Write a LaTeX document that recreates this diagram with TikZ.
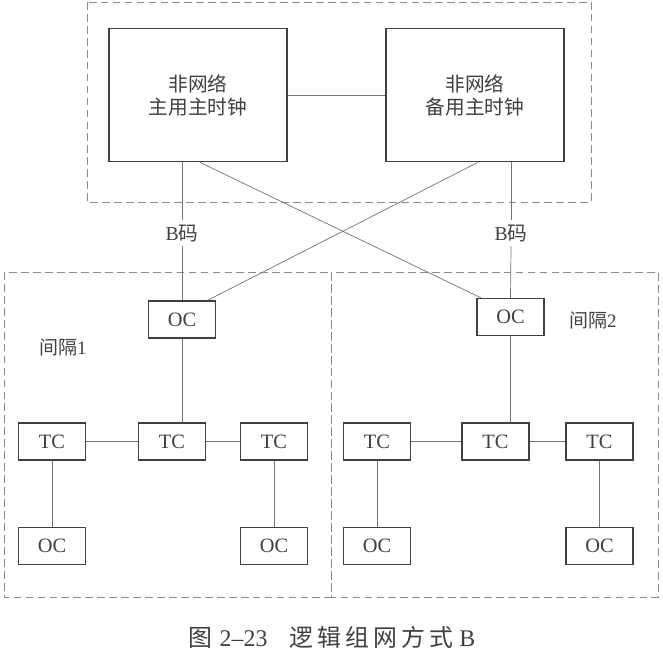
\documentclass[tikz,border=0pt]{standalone}
\usepackage{fontspec}
\setmainfont{Liberation Serif}
\newfontfamily\cjk{Noto Sans CJK SC}
\newfontfamily\cjkwide[LetterSpace=17]{Noto Sans CJK SC}
\usepackage{xcolor}
\usetikzlibrary{positioning,calc}

\begin{document}
\begin{tikzpicture}[
  x=0.025cm,
  y=-0.025cm,
  font=\fontsize{14}{16.5}\selectfont,
  link/.style={line width=0.5pt, draw=black!55},
  zone/.style={draw=black!45, dash pattern=on 5.5pt off 3pt, line width=0.6pt},
  clock/.style={draw=black!75, line width=1.1pt, fill=white,
    minimum width=4.45cm, minimum height=3.33cm, align=center,
    text=black!75, font=\cjk\fontsize{14}{16.3}\selectfont},
  unit/.style={draw=black!75, line width=1.1pt, fill=white,
    minimum width=1.68cm, minimum height=0.92cm, inner sep=0pt,
    text=black!75, font=\fontsize{14.5}{16}\selectfont},
  note/.style={text=black!75}
]

\useasboundingbox (0,0) rectangle (663,657);

% dashed regions
\draw[zone] (87,2) rectangle (591,202);
\draw[zone] (4,272) rectangle (331,597);
\draw[zone] (331,272) rectangle (658,597);

\node[clock] (main) at (198,95) {非网络\\主用主时钟};
\node[clock] (backup) at (475,95) {非网络\\备用主时钟};

\node[note] (bA) at (182,233) {B{\cjk 码}};
\node[note] (bB) at (511,233) {B{\cjk 码}};

\node[unit] (ocA) at (182,319.5) {OC};
\node[unit] (ocB) at (510.5,317) {OC};

\node[note, font=\fontsize{13.5}{15}\selectfont] (gapA) at (63,347) {{\cjk 间隔}1};
\node[note, font=\fontsize{13.5}{15}\selectfont] (gapB) at (593,320) {{\cjk 间隔}2};

\node[unit] (tcA1) at (52,441.5) {TC};
\node[unit] (tcA2) at (172,441.5) {TC};
\node[unit] (tcA3) at (274,441.5) {TC};
\node[unit, below=1.65cm of tcA1] (ocA1) {OC};
\node[unit, below=1.65cm of tcA3] (ocA3) {OC};

\node[unit] (tcB1) at (377,441.5) {TC};
\node[unit] (tcB2) at (495.5,441.5) {TC};
\node[unit] (tcB3) at (599.5,441.5) {TC};
\node[unit, below=1.65cm of tcB1] (ocB1) {OC};
\node[unit, below=1.65cm of tcB3] (ocB3) {OC};

\draw[link] (main) -- (backup);
\draw[link] (main.south -| bA) -- (bA.north);
\draw[link] (bA.south) -- (ocA.north);
\draw[link] (backup.south -| bB) -- (bB.north);
\draw[link] (bB.south) -- (ocB.north);
\draw[link] ([xshift=0.05cm]main.south) -- ([xshift=0.12cm]ocB.north west);
\draw[link] ([xshift=0.07cm]backup.south) -- ([xshift=-0.22cm]ocA.north east);

\draw[link] (ocA.south) -- (ocA.south |- tcA2.north);
\draw[link] (tcA1) -- (tcA2);
\draw[link] (tcA2) -- (tcA3);
\draw[link] (tcA1) -- (ocA1);
\draw[link] (tcA3) -- (ocA3);

\draw[link] (ocB.south) -- (ocB.south |- tcB2.north);
\draw[link] (tcB1) -- (tcB2);
\draw[link] (tcB2) -- (tcB3);
\draw[link] (tcB1) -- (ocB1);
\draw[link] (tcB3) -- (ocB3);

\node[note, font=\fontsize{17}{20}\selectfont] (caption) at (332,637)
  {{\cjk 图}\hspace{5pt}2–23\hspace{16pt}{\cjkwide 逻辑组网方式}\hspace{4pt}B};

\end{tikzpicture}
\end{document}
